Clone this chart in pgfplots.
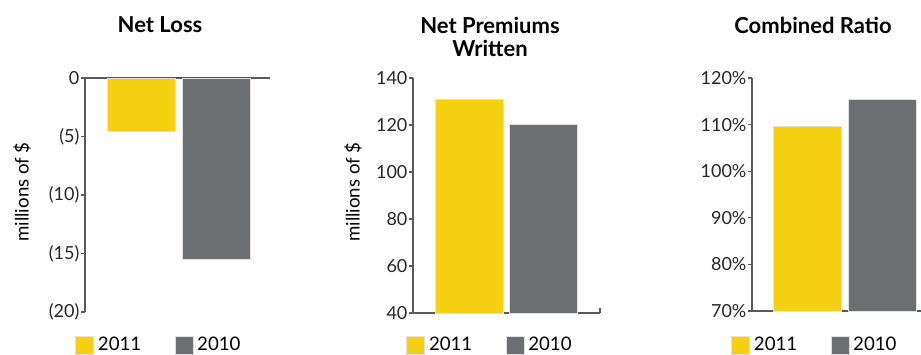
\documentclass[border=0pt]{standalone}
\usepackage{fontspec}
\setmainfont{Lato}
\usepackage{pgfplots}
\pgfplotsset{compat=1.18}
\definecolor{ey}{HTML}{F4D011}
\definecolor{eg}{HTML}{6D6E71}
\definecolor{axg}{HTML}{58595B}
\pgfplotsset{
  common/.style={
    scale only axis,
    clip=false,
    axis line style={axg, line width=1pt},
    tick style={axg, line width=0.8pt},
    major tick length=3pt,
    tick align=outside,
    xtick=\empty,
    ytick pos=left,
    ybar, bar width=68, bar shift=0pt,
    ticklabel style={font=\fontsize{13.5}{15}\selectfont, text=black!85},
    yticklabel style={inner xsep=1pt},
    legend columns=2,
    legend style={draw=none, fill=none, font=\fontsize{14}{16}\selectfont,
      inner sep=0pt, anchor=west,
      /tikz/every even column/.append style={column sep=22pt},
      nodes={inner xsep=3pt, inner ysep=0pt}},
    legend image code/.code={\fill[##1] (0pt,-6.75pt) rectangle (13.5pt,6.75pt);},
    ylabel style={font=\fontsize{14}{16}\selectfont, anchor=center},
  }
}
\begin{document}
\begin{tikzpicture}
\path[use as bounding box] (0,0) rectangle (690.75pt,265.5pt);
% Panel 1: Net Loss
\begin{axis}[common,
  at={(63.75pt,31.5pt)}, anchor=south west,
  width=138.75pt, height=175.5pt,
  xmin=85, xmax=270, ymin=-20, ymax=0,
  axis x line*=top, axis y line*=left,
  ytick={0,-5,-10,-15,-20},
  yticklabels={0,(5),(10),(15),(20)},
  ylabel={millions of \$},
  ylabel style={at={(rel axis cs:-0.34,0.513)}},
  legend style={at={(rel axis cs:-0.054,-0.141)}},
]
\addplot[fill=ey, draw=black!12, line width=0.5pt] coordinates {(141,-4.6)};
\addplot[fill=eg, draw=black!12, line width=0.5pt] coordinates {(216,-15.5)};
\legend{2011,2010}
\end{axis}
% Panel 2: Net Premiums Written
\begin{axis}[common,
  at={(309.75pt,30.75pt)}, anchor=south west,
  width=140.25pt, height=176.25pt,
  xmin=413, xmax=600, ymin=40, ymax=140,
  axis x line*=bottom, axis y line*=left,
  ytick={40,60,80,100,120,140},
  yticklabels={40,60,80,100,120,140},
  extra x ticks={600}, extra x tick labels={},
  extra x tick style={tick align=inside, major tick length=4pt},
  ylabel={millions of \$},
  ylabel style={at={(rel axis cs:-0.321,0.515)}},
  legend style={at={(rel axis cs:-0.037,-0.136)}},
]
\addplot[fill=ey, draw=black!12, line width=0.5pt] coordinates {(469,131.1)};
\addplot[fill=eg, draw=black!12, line width=0.5pt] coordinates {(543.5,120.4)};
\legend{2011,2010}
\end{axis}
% Panel 3: Combined Ratio
\begin{axis}[common,
  at={(564pt,32.25pt)}, anchor=south west,
  width=133.5pt, height=174.75pt,
  xmin=752, xmax=930, ymin=70, ymax=120,
  axis x line*=bottom, axis y line*=left,
  ytick={70,80,90,100,110,120},
  yticklabels={70\%,80\%,90\%,100\%,110\%,120\%},
  legend style={at={(rel axis cs:-0.118,-0.146)}},
]
\addplot[fill=ey, draw=black!12, line width=0.5pt] coordinates {(807.5,109.7)};
\addplot[fill=eg, draw=black!12, line width=0.5pt] coordinates {(882,115.5)};
\legend{2011,2010}
\end{axis}
% Titles
\node[font=\bfseries\fontsize{16.5}{19}\selectfont] at (120pt,246.75pt) {Net Loss};
\node[font=\bfseries\fontsize{16.5}{17.25}\selectfont, align=center] at (367.5pt,238.1pt) {Net Premiums\\Written};
\node[font=\bfseries\fontsize{16.5}{19}\selectfont] at (609.75pt,246.75pt) {Combined Ratio};
\end{tikzpicture}
\end{document}
